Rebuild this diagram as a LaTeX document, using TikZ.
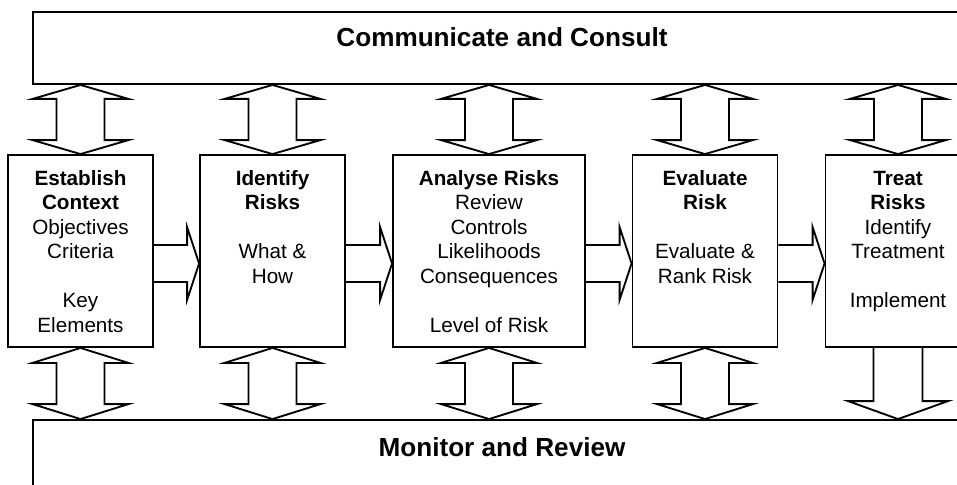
\documentclass[tikz,border=0pt]{standalone}
\usepackage{fontspec}
\setmainfont{Liberation Sans}
\usetikzlibrary{calc}

\begin{document}
\begin{tikzpicture}[
                x=0.75pt, y=-0.75pt,
                line width=1.4pt,
                band/.style={draw, fill=white, inner sep=0pt, minimum width=703.5pt,
                    font=\bfseries\fontsize{19.6}{23}\selectfont},
                stage/.style={draw, fill=white, inner sep=0pt, minimum width=108.75pt,
                    text height=22.5pt, text depth=121.5pt,
                    font=\fontsize{15.5}{18.4}\selectfont}
            ]
                \path[use as bounding box] (0,0) rectangle (957,485);
                \clip (0,0) rectangle (957,485);

                \node[band, text height=26.25pt, text depth=27.75pt] (comm) at (502,48) {Communicate and Consult};
                \node[band, text height=27pt, text depth=48pt] (mon) at (502,470) {Monitor and Review};

                \node[stage] (establish) at (80.5,251)
                    {\begin{tabular}[t]{@{}c@{}}\textbf{Establish}\\\textbf{Context}\\Objectives\\Criteria\\ \\Key\\Elements\end{tabular}};
                \node[stage] (identify) at (272.5,251)
                    {\begin{tabular}[t]{@{}c@{}}\textbf{Identify}\\\textbf{Risks}\\ \\What \&\\How\end{tabular}};
                \node[stage, minimum width=144pt] (analyse) at (489,251)
                    {\begin{tabular}[t]{@{}c@{}}\textbf{Analyse Risks}\\Review\\Controls\\Likelihoods\\Consequences\\ \\Level of Risk\end{tabular}};
                \node[stage] (evaluate) at (705,251)
                    {\begin{tabular}[t]{@{}c@{}}\textbf{Evaluate}\\\textbf{Risk}\\ \\Evaluate \&\\Rank Risk\end{tabular}};
                \node[stage] (treat) at (898,251)
                    {\begin{tabular}[t]{@{}c@{}}\textbf{Treat}\\\textbf{Risks}\\Identify\\Treatment\\ \\Implement\end{tabular}};

                % block arrows along the process
                \foreach \a/\b in {establish/identify, identify/analyse, analyse/evaluate, evaluate/treat} {
                    \path ([yshift=-9.375pt]\a.east) coordinate (from)
                          ([yshift=-9.375pt]\b.west) coordinate (to);
                    \draw ($(from)+(0,-18.5)$) -- ($(to)+(-12,-18.5)$) -- ($(to)+(-12,-36.5)$) -- (to)
                          -- ($(to)+(-12,36.5)$) -- ($(to)+(-12,18.5)$) -- ($(from)+(0,18.5)$);
                }

                % two-way arrows to communicate and consult
                \foreach \st in {establish, identify, analyse, evaluate, treat} {
                    \path (\st.north |- comm.south) coordinate (top) (\st.north) coordinate (bot);
                    \draw (top) -- ++(48,14) -- ++(-24,0) -- ($(bot)+(24,-14)$) -- ++(24,0) -- (bot)
                          -- ++(-48,-14) -- ++(24,0) -- ($(top)+(-24,14)$) -- ++(-24,0) -- cycle;
                }

                % two-way arrows to monitor and review
                \foreach \st in {establish, identify, analyse, evaluate} {
                    \path (\st.south) coordinate (top) (\st.south |- mon.north) coordinate (bot);
                    \draw (top) -- ++(48,15) -- ++(-24,0) -- ($(bot)+(24,-15)$) -- ++(24,0) -- (bot)
                          -- ++(-48,-15) -- ++(24,0) -- ($(top)+(-24,15)$) -- ++(-24,0) -- cycle;
                }

                \coordinate (end) at (treat.south |- mon.north);
                \draw ($(treat.south)+(24.5,0)$) -- ($(end)+(24.5,-18)$) -- ($(end)+(50,-18)$) -- (end)
                      -- ($(end)+(-50,-18)$) -- ($(end)+(-24.5,-18)$) -- ($(treat.south)+(-24.5,0)$);
            \end{tikzpicture}
\end{document}
